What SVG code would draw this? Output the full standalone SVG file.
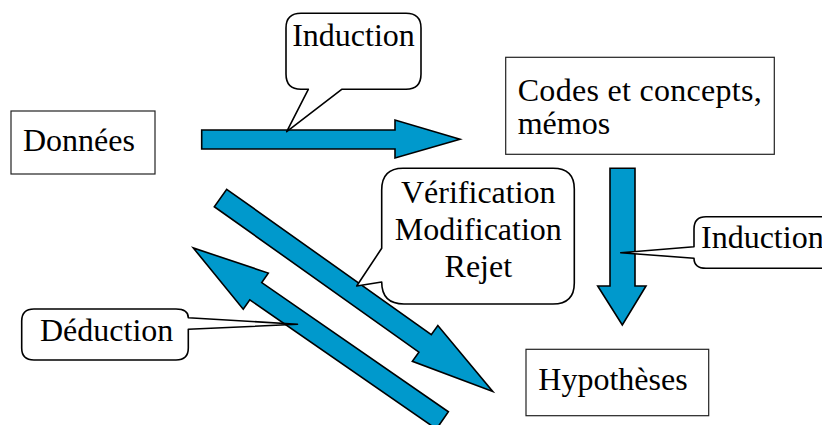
<svg xmlns="http://www.w3.org/2000/svg" width="822" height="425" viewBox="0 0 822 425">
<style>
  .box { fill: #ffffff; stroke: #222222; stroke-width: 1.2; }
  .call { fill: #ffffff; stroke: #000000; stroke-width: 1.6; stroke-linejoin: round; }
  .arrow { fill: #0099cc; stroke: #000000; stroke-width: 1.6; stroke-linejoin: miter; }
  .t { font-size: 32px; fill: #000000; }
</style>
<rect width="822" height="425" fill="#ffffff"/>

<g id="connectors">
  <polygon id="arrow-induction-h" class="arrow" points="201.7,130 395,130 395,120 460,139.3 395,158 395,149 201.7,149"/>
  <polygon id="arrow-induction-v" class="arrow" points="610,168.3 635,168.3 635,286 646,286 622.3,325 597.7,286 610,286"/>
  <path id="arrow-verification" class="arrow" transform="translate(220.5,198) rotate(35.4)" d="M0,-10.7 L251,-10.7 L251,-22 L334,0 L251,22 L251,10.7 L0,10.7 Z"/>
  <path id="arrow-deduction" class="arrow" transform="translate(442.4,420.4) rotate(214.7)" d="M0,-10.5 L227,-10.5 L227,-22 L303,0 L227,22 L227,10.5 L0,10.5 Z"/>
</g>

<g id="node-donnees">
  <rect class="box" x="11" y="111" width="144" height="63"/>
  <text class="t" font-family="Times New Roman, serif" x="23" y="151">Données</text>
</g>

<g id="node-codes">
  <rect class="box" x="505.7" y="57.3" width="268.6" height="97"/>
  <text class="t" font-family="Times New Roman, serif" x="517.7" y="101" textLength="244" lengthAdjust="spacing">Codes et concepts,</text>
  <text class="t" font-family="Times New Roman, serif" x="517.7" y="134">mémos</text>
</g>

<g id="node-hypotheses">
  <rect class="box" x="526" y="349.3" width="182.7" height="66.4"/>
  <text class="t" font-family="Times New Roman, serif" x="538.3" y="390">Hypothèses</text>
</g>

<g id="callout-induction-top">
  <path class="call" d="M301,13.3 H406 Q421,13.3 421,28 V74 Q421,89.3 406,89.3 H341.7 L286.7,131.7 L308.3,89.3 H301 Q286,89.3 286,74 V28 Q286,13.3 301,13.3 Z"/>
  <text class="t" font-family="Times New Roman, serif" x="353.5" y="46" text-anchor="middle">Induction</text>
</g>

<g id="callout-verification">
  <path class="call" d="M403,168.3 H553 Q574.3,168.3 574.3,189 V283 Q574.3,304 553,304 H404 Q381.7,304 381.7,282 L356.7,286 L381.7,248.3 V190 Q381.7,168.3 403,168.3 Z"/>
  <text class="t" font-family="Times New Roman, serif" x="478.3" y="202.7" text-anchor="middle">Vérification</text>
  <text class="t" font-family="Times New Roman, serif" x="478.3" y="240" text-anchor="middle">Modification</text>
  <text class="t" font-family="Times New Roman, serif" x="478.3" y="276.7" text-anchor="middle">Rejet</text>
</g>

<g id="callout-induction-right">
  <path class="call" d="M706,216.7 H830 Q842,216.7 842,229 V256 Q842,268.3 830,268.3 H706 Q694,268.3 694,258.3 L620.7,252.7 L694,246.7 V229 Q694,216.7 706,216.7 Z"/>
  <text class="t" font-family="Times New Roman, serif" x="701" y="248.3">Induction</text>
</g>

<g id="callout-deduction">
  <path class="call" d="M34,309 H176 Q188.3,309 188.3,317.7 L297.5,324.3 L188.3,329.3 V348 Q188.3,360 176,360 H34 Q21.7,360 21.7,348 V321 Q21.7,309 34,309 Z"/>
  <text class="t" font-family="Times New Roman, serif" x="40" y="340.7">Déduction</text>
</g>
</svg>
